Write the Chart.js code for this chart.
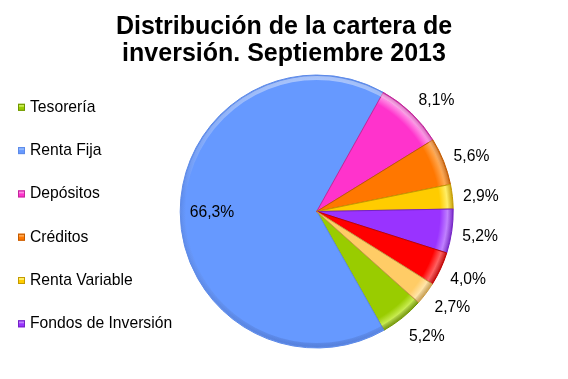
<!DOCTYPE html>
<html>
<head>
<meta charset="utf-8">
<script src="https://cdn.jsdelivr.net/npm/chart.js@4/dist/chart.umd.min.js"></script>
<style>
html,body{margin:0;padding:0;background:#ffffff;}
#wrap{width:568px;height:379px;position:relative;}
</style>
</head>
<body>
<div id="wrap"><canvas id="c" width="568" height="379"></canvas></div>
<script>
// ---- data ----
const titleLines = ['Distribución de la cartera de', 'inversión. Septiembre 2013'];
const categories = ['Tesorería', 'Renta Fija', 'Depósitos', 'Créditos', 'Renta Variable', 'Fondos de Inversión', 'Otros activos', 'Otras inversiones'];
const shares = [5.2, 66.3, 8.1, 5.6, 2.9, 5.2, 4.0, 2.7];
const legendShown = 6;

// ---- styles ----
const baseColors  = ['#99cc00', '#6699ff', '#ff33cc', '#ff7700', '#ffcc00', '#9933ff', '#ff0000', '#ffcc66'];
const lightColors = ['#c8ec50', '#8fb8ff', '#ff88e4', '#ffa64d', '#ffee66', '#c080ff', '#ff6060', '#ffe4a8'];
const darkColors  = ['#6f9400', '#5d8ae8', '#c0279a', '#c25a00', '#c49a00', '#7322c4', '#c00000', '#c89a45'];
const FONT = '"Liberation Sans", Arial, sans-serif';

function sliceFill(ctx) {
  const i = ctx.dataIndex;
  const chart = ctx.chart;
  const a = chart.chartArea;
  if (!a) return baseColors[i];
  const cx = (a.left + a.right) / 2, cy = (a.top + a.bottom) / 2;
  const r = Math.min(a.width, a.height) / 2;
  const g = chart.ctx.createRadialGradient(cx, cy, 0, cx, cy, r);
  g.addColorStop(0, baseColors[i]);
  g.addColorStop(0.90, baseColors[i]);
  g.addColorStop(0.955, i === 1 ? baseColors[i] : lightColors[i]);
  g.addColorStop(1, darkColors[i]);
  return g;
}

const overlayPlugin = {
  id: 'overlay',
  afterDatasetsDraw(chart) {
    // soft top-lit bevel on the rim
    const ctx = chart.ctx;
    const el = chart.getDatasetMeta(0).data[0];
    if (!el) return;
    const p = el.getProps(['x', 'y', 'outerRadius'], true);
    const g = ctx.createLinearGradient(0, p.y - p.outerRadius, 0, p.y + p.outerRadius);
    g.addColorStop(0, 'rgba(255,255,255,0.45)');
    g.addColorStop(0.45, 'rgba(255,255,255,0)');
    g.addColorStop(1, 'rgba(0,0,40,0.10)');
    ctx.save();
    ctx.strokeStyle = g;
    ctx.lineWidth = 4;
    ctx.beginPath();
    ctx.arc(p.x, p.y, p.outerRadius - 3, 0, Math.PI * 2);
    ctx.stroke();
    ctx.restore();
  },
  afterDraw(chart) {
    const ctx = chart.ctx;
    ctx.save();
    // title
    ctx.fillStyle = '#000';
    ctx.textAlign = 'center';
    ctx.textBaseline = 'alphabetic';
    ctx.font = 'bold 25px ' + FONT;
    ctx.fillText(titleLines[0], 284, 33.5);
    ctx.fillText(titleLines[1], 284, 60.5);

    // legend
    ctx.font = '15.7px ' + FONT;
    ctx.textAlign = 'left';
    for (let i = 0; i < legendShown; i++) {
      const base = 111.8 + 43.3 * i;
      ctx.fillStyle = baseColors[i];
      ctx.fillRect(18, base - 8, 7, 7);
      ctx.fillStyle = lightColors[i];
      ctx.fillRect(19, base - 7, 5, 2);
      ctx.strokeStyle = darkColors[i];
      ctx.lineWidth = 1;
      ctx.strokeRect(18.5, base - 7.5, 6, 6);
      ctx.fillStyle = '#000';
      ctx.fillText(categories[i], 30, base);
    }

    // data labels
    const meta = chart.getDatasetMeta(0);
    ctx.textAlign = 'center';
    ctx.textBaseline = 'middle';
    meta.data.forEach((el, i) => {
      const p = el.getProps(['x', 'y', 'startAngle', 'endAngle', 'outerRadius'], true);
      let mid = (p.startAngle + p.endAngle) / 2;
      const txt = shares[i].toFixed(1).replace('.', ',') + '%';
      let d, dy;
      if (i === 1) {
        d = p.outerRadius * 0.767;
        dy = 1;
      } else {
        // normalise to (-PI, PI] and pull slightly toward 3 o'clock
        while (mid > Math.PI) mid -= Math.PI * 2;
        while (mid <= -Math.PI) mid += Math.PI * 2;
        mid *= 0.94;
        d = p.outerRadius + 28.5;
        dy = 2.5;
      }
      ctx.fillStyle = '#000';
      ctx.fillText(txt, p.x + Math.cos(mid) * d, p.y + Math.sin(mid) * d + dy);
    });
    ctx.restore();
  }
};

new Chart(document.getElementById('c'), {
  type: 'pie',
  data: {
    labels: categories,
    datasets: [{
      data: shares,
      backgroundColor: sliceFill,
      borderColor: darkColors,
      borderWidth: 1,
      hoverBorderWidth: 1,
      hoverOffset: 0,
      offset: 0
    }]
  },
  options: {
    responsive: false,
    animation: false,
    devicePixelRatio: 1,
    rotation: 131.8,
    layout: { padding: { left: 179.7, right: 114.3, top: 74.5, bottom: 30.5 } },
    plugins: {
      legend: { display: false },
      title: { display: false },
      tooltip: { enabled: false }
    },
    events: []
  },
  plugins: [overlayPlugin]
});
</script>
</body>
</html>
